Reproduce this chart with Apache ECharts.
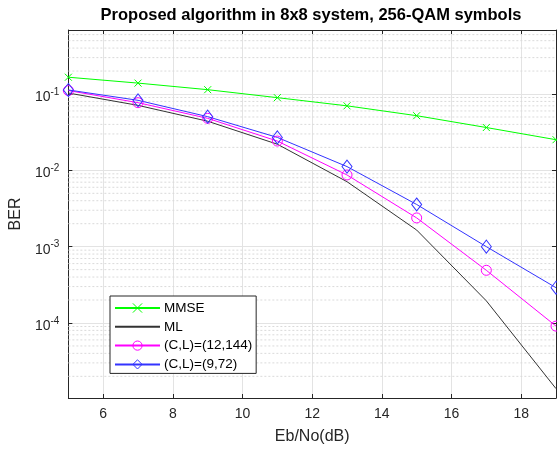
<!DOCTYPE html>
<html>
<head>
<meta charset="utf-8">
<script src="https://cdn.jsdelivr.net/npm/echarts@6/dist/echarts.min.js"></script>
<style>html,body{margin:0;padding:0;background:#fff;}#c{width:557px;height:450px;}</style>
</head>
<body>
<div id="c"></div>
<script>
const xValues = [5, 7, 9, 11, 13, 15, 17, 19];
const mmse = [0.166, 0.139, 0.114, 0.0896, 0.070, 0.052, 0.0364, 0.0252];
const ml = [0.103, 0.071, 0.044, 0.022, 0.0071, 0.00165, 0.000195, 0.0000138];
const cl12 = [0.111, 0.077, 0.048, 0.0242, 0.0087, 0.00238, 0.00049, 0.000091];
const cl9 = [0.113, 0.0827, 0.0505, 0.027, 0.0112, 0.00357, 0.0010, 0.00029];
const seriesNames = ['MMSE', 'ML', '(C,L)=(12,144)', '(C,L)=(9,72)'];
const xTicks = [6, 8, 10, 12, 14, 16, 18];
const yTicks = [1e-4, 1e-3, 1e-2, 1e-1];
const titleText = 'Proposed algorithm in 8x8 system, 256-QAM symbols';
const xName = 'Eb/No(dB)';
const yName = 'BER';

const X_MIN = 5, X_MAX = 19, Y_MIN = 1.04e-5, Y_MAX = 0.69;
const FONT = '"Liberation Sans", Arial, sans-serif';
const AX = '#262626';
const CLR = { mmse: '#00ff00', ml: '#333333', cl12: '#ff00ff', cl9: '#3333ff' };
const NOFILL = 'rgba(255,255,255,0)';

const minorY = [];
for (let d = -5; d <= -1; d++) {
  for (let k = 2; k <= 9; k++) {
    const v = k * Math.pow(10, d);
    if (v > Y_MIN && v < Y_MAX) minorY.push(v);
  }
}

function pairs(ys) { return xValues.map((x, i) => [x, ys[i]]); }

const minorSeries = minorY.map(v => ({
  name: 'grid' + v, type: 'line', data: [[X_MIN, v], [X_MAX, v]], z: 1, silent: true,
  symbol: 'none', showSymbol: false,
  lineStyle: { color: '#dadada', type: [2, 2], width: 1 },
  emphasis: { disabled: true }, tooltip: { show: false }
}));

const chart = echarts.init(document.getElementById('c'), null, { renderer: 'canvas' });
const option = {
  animation: false,
  backgroundColor: '#fff',
  title: {
    text: titleText, left: 311, top: 7, textAlign: 'center', padding: 0,
    textStyle: { fontFamily: FONT, fontSize: 16.5, fontWeight: 'bold', color: '#000' }
  },
  grid: { left: 66, right: 1, top: 30, bottom: 47, containLabel: false },
  legend: {
    orient: 'vertical', left: 110, top: 296,
    data: [
      { name: seriesNames[0], itemStyle: { color: CLR.mmse, borderColor: CLR.mmse, borderWidth: 1 } },
      { name: seriesNames[1], itemStyle: { opacity: 0 } },
      { name: seriesNames[2], itemStyle: { color: NOFILL, borderColor: CLR.cl12, borderWidth: 1 } },
      { name: seriesNames[3], itemStyle: { color: NOFILL, borderColor: CLR.cl9, borderWidth: 1 } }
    ],
    itemWidth: 45, itemHeight: 11.5, itemGap: 4.8,
    padding: [5, 4, 2, 4],
    backgroundColor: '#fff', borderColor: AX, borderWidth: 1,
    textStyle: { fontFamily: FONT, fontSize: 13.5, color: '#000', padding: [0, 0, 0, -1] },
    selectedMode: false
  },
  xAxis: [{
    type: 'value', min: X_MIN, max: X_MAX, position: 'bottom',
    name: xName, nameLocation: 'middle', nameGap: 31,
    nameTextStyle: { fontFamily: FONT, fontSize: 16, color: AX },
    axisLine: { show: true, lineStyle: { color: AX, width: 1 } },
    axisTick: { show: true, inside: true, length: 4, customValues: xTicks, lineStyle: { color: AX } },
    axisLabel: { customValues: xTicks, fontFamily: FONT, fontSize: 14, color: AX, margin: 9 },
    splitLine: { show: true, lineStyle: { color: '#e3e3e3', width: 1 } }
  }, {
    type: 'value', min: X_MIN, max: X_MAX, position: 'top',
    axisLine: { show: true, lineStyle: { color: AX, width: 1 } },
    axisTick: { show: true, inside: true, length: 4, customValues: xTicks, lineStyle: { color: AX } },
    axisLabel: { show: false },
    splitLine: { show: false }
  }],
  yAxis: [{
    type: 'log', logBase: 10, min: Y_MIN, max: Y_MAX, position: 'left',
    name: yName, nameLocation: 'middle', nameGap: 37, nameRotate: 90,
    nameTextStyle: { fontFamily: FONT, fontSize: 16, color: AX },
    axisLine: { show: true, lineStyle: { color: AX, width: 1 } },
    axisTick: { show: true, inside: true, length: 4, customValues: yTicks, lineStyle: { color: AX } },
    axisLabel: {
      customValues: yTicks, margin: 9, padding: [6, 0, 0, 0],
      formatter: v => '{a|10}{b|' + Math.round(Math.log10(v)) + '}',
      rich: {
        a: { fontFamily: FONT, fontSize: 14, color: AX },
        b: { fontFamily: FONT, fontSize: 10, color: AX, padding: [0, 0, 10, 0] }
      }
    },
    splitLine: { show: true, lineStyle: { color: '#e3e3e3', width: 1 } }
  }, {
    type: 'log', logBase: 10, min: Y_MIN, max: Y_MAX, position: 'right',
    axisLine: { show: true, lineStyle: { color: AX, width: 1 } },
    axisTick: { show: true, inside: true, length: 4, customValues: yTicks, lineStyle: { color: AX } },
    axisLabel: { show: false },
    splitLine: { show: false }
  }],
  series: minorSeries.concat([
    {
      name: seriesNames[0], type: 'line', data: pairs(mmse), z: 3,
      symbol: 'path://M0,0L10,10M10,0L0,10', symbolSize: 7, showAllSymbol: true,
      lineStyle: { color: CLR.mmse, width: 1 },
      itemStyle: { color: CLR.mmse, borderColor: CLR.mmse, borderWidth: 1 }
    },
    {
      name: seriesNames[1], type: 'line', data: pairs(ml), z: 3,
      symbol: 'none', showSymbol: false,
      lineStyle: { color: CLR.ml, width: 1 },
      itemStyle: { color: CLR.ml }
    },
    {
      name: seriesNames[2], type: 'line', data: pairs(cl12), z: 3,
      symbol: 'circle', symbolSize: 10,
      lineStyle: { color: CLR.cl12, width: 1 },
      itemStyle: { color: NOFILL, borderColor: CLR.cl12, borderWidth: 1 }
    },
    {
      name: seriesNames[3], type: 'line', data: pairs(cl9), z: 3,
      symbol: 'diamond', symbolSize: [10, 13],
      lineStyle: { color: CLR.cl9, width: 1 },
      itemStyle: { color: NOFILL, borderColor: CLR.cl9, borderWidth: 1 }
    }
  ])
};
chart.setOption(option);
</script>
</body>
</html>
